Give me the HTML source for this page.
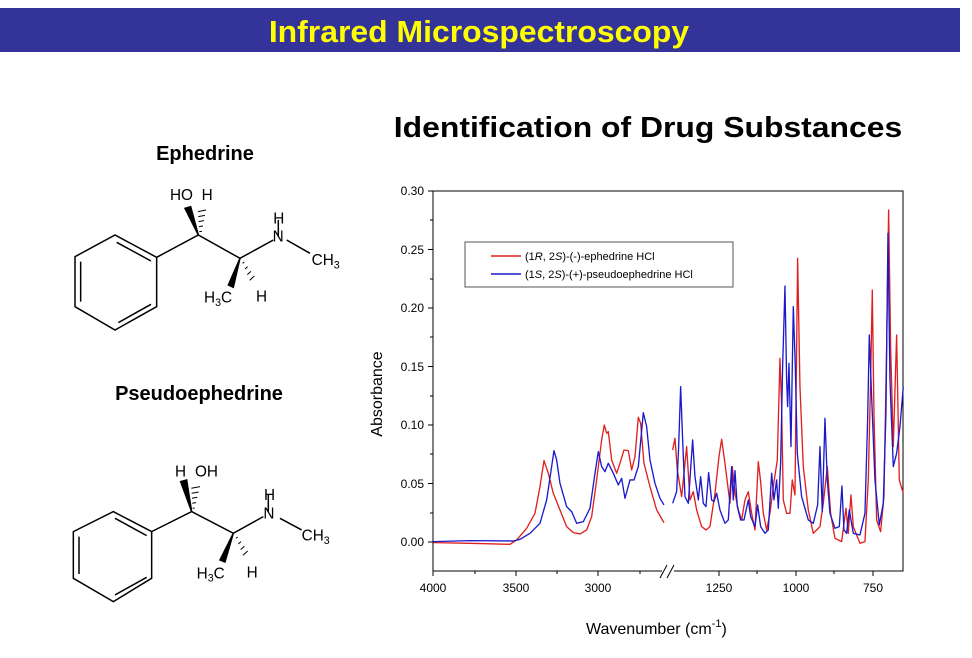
<!DOCTYPE html>
<html><head><meta charset="utf-8"><style>
body{margin:0;width:972px;height:653px;background:#fff;overflow:hidden;font-family:"Liberation Sans",sans-serif;}
</style></head><body>
<svg width="972" height="653" viewBox="0 0 972 653" xmlns="http://www.w3.org/2000/svg" font-family="Liberation Sans, sans-serif">
<rect x="0" y="8" width="960" height="44" fill="#333399"/>
<text x="479" y="42" font-size="31" font-weight="bold" fill="#ffff00" text-anchor="middle" transform="translate(479 0) scale(1.03 1) translate(-479 0)">Infrared Microspectroscopy</text>
<text x="648" y="137" font-size="29" font-weight="bold" text-anchor="middle" fill="#000" transform="translate(648 0) scale(1.1 1) translate(-648 0)">Identification of Drug Substances</text>
<text x="205" y="160" font-size="20" font-weight="bold" text-anchor="middle">Ephedrine</text>
<text x="199" y="400" font-size="20" font-weight="bold" text-anchor="middle">Pseudoephedrine</text>

<g transform="translate(60 170) scale(0.3333)" stroke="#000" stroke-width="4.5" fill="none">
<polygon points="45,260 165,195 290,262 290,410 165,480 45,410"/>
<line x1="62" y1="275" x2="62" y2="395"/><line x1="170" y1="217" x2="273" y2="273"/><line x1="175" y1="458" x2="273" y2="403"/>
<polyline points="290,262 415,195 540,265 640,210"/>
<line x1="680" y1="210" x2="750" y2="250"/>
<line x1="655" y1="150" x2="655" y2="200"/>
<polygon points="415,195 392,110 375,115" fill="#000"/>
<g stroke-width="3"><line x1="418" y1="185" x2="426" y2="184"/><line x1="417" y1="170" x2="429" y2="168"/><line x1="416" y1="155" x2="432" y2="152"/><line x1="415" y1="140" x2="435" y2="136"/><line x1="414" y1="125" x2="438" y2="120"/></g>
<polygon points="540,265 505,345 520,352" fill="#000"/>
<g stroke-width="3"><line x1="548" y1="280" x2="553" y2="276"/><line x1="555" y1="297" x2="563" y2="290"/><line x1="562" y1="314" x2="573" y2="304"/><line x1="569" y1="331" x2="583" y2="318"/></g>
<g stroke="none" fill="#000" font-size="46">
<text x="330" y="90">HO</text><text x="425" y="90">H</text><text x="638" y="215">N</text><text x="640" y="160">H</text>
<text x="755" y="285">CH<tspan font-size="32" dy="10">3</tspan></text>
<text x="432" y="398">H<tspan font-size="32" dy="10">3</tspan><tspan dy="-10">C</tspan></text><text x="588" y="395">H</text></g>
</g>

<g transform="translate(60 170) scale(0.3333)" stroke="#000" stroke-width="4.5" fill="none">
<polygon points="40,1085 160,1025 275,1085 275,1225 160,1295 40,1225"/>
<line x1="57" y1="1100" x2="57" y2="1212"/><line x1="165" y1="1045" x2="260" y2="1097"/><line x1="165" y1="1275" x2="260" y2="1222"/>
<polyline points="275,1085 395,1025 520,1090 610,1040"/>
<line x1="660" y1="1045" x2="725" y2="1080"/>
<line x1="625" y1="975" x2="625" y2="1025"/>
<polygon points="395,1025 362,935 380,930" fill="#000"/>
<g stroke-width="3"><line x1="398" y1="1015" x2="404" y2="1014"/><line x1="397" y1="1000" x2="408" y2="998"/><line x1="396" y1="985" x2="412" y2="982"/><line x1="395" y1="970" x2="416" y2="966"/><line x1="394" y1="955" x2="420" y2="950"/></g>
<polygon points="520,1090 480,1170 495,1176" fill="#000"/>
<g stroke-width="3"><line x1="528" y1="1105" x2="533" y2="1101"/><line x1="535" y1="1122" x2="543" y2="1115"/><line x1="542" y1="1139" x2="553" y2="1129"/><line x1="549" y1="1156" x2="563" y2="1143"/></g>
<g stroke="none" fill="#000" font-size="46">
<text x="345" y="920">H</text><text x="405" y="920">OH</text><text x="610" y="1045">N</text><text x="612" y="990">H</text>
<text x="725" y="1112">CH<tspan font-size="32" dy="10">3</tspan></text>
<text x="410" y="1225">H<tspan font-size="32" dy="10">3</tspan><tspan dy="-10">C</tspan></text><text x="560" y="1222">H</text></g>
</g>

<!-- chart -->
<rect x="433" y="191" width="470" height="380" fill="none" stroke="#000" stroke-width="1"/>
<g stroke="#000" stroke-width="1">
<line x1="428" y1="191" x2="433" y2="191"/><line x1="428" y1="249.5" x2="433" y2="249.5"/><line x1="428" y1="308" x2="433" y2="308"/><line x1="428" y1="366.5" x2="433" y2="366.5"/><line x1="428" y1="425" x2="433" y2="425"/><line x1="428" y1="483.5" x2="433" y2="483.5"/><line x1="428" y1="542" x2="433" y2="542"/>
<line x1="430" y1="220" x2="433" y2="220"/><line x1="430" y1="279" x2="433" y2="279"/><line x1="430" y1="337" x2="433" y2="337"/><line x1="430" y1="396" x2="433" y2="396"/><line x1="430" y1="454" x2="433" y2="454"/><line x1="430" y1="513" x2="433" y2="513"/>
<line x1="433" y1="571" x2="433" y2="576"/><line x1="475" y1="571" x2="475" y2="574"/><line x1="516" y1="571" x2="516" y2="576"/><line x1="557" y1="571" x2="557" y2="574"/><line x1="598" y1="571" x2="598" y2="576"/><line x1="640" y1="571" x2="640" y2="574"/>
<line x1="719" y1="571" x2="719" y2="576"/><line x1="757" y1="571" x2="757" y2="574"/><line x1="796" y1="571" x2="796" y2="576"/><line x1="834" y1="571" x2="834" y2="574"/><line x1="873" y1="571" x2="873" y2="576"/>
</g>
<rect x="662" y="565" width="12" height="12" fill="#fff"/>
<line x1="660" y1="578" x2="667" y2="565" stroke="#000"/><line x1="667" y1="578" x2="674" y2="565" stroke="#000"/>
<g font-size="12" text-anchor="end" fill="#000">
<text x="424" y="195">0.30</text><text x="424" y="254">0.25</text><text x="424" y="312">0.20</text><text x="424" y="371">0.15</text><text x="424" y="429">0.10</text><text x="424" y="488">0.05</text><text x="424" y="546">0.00</text></g>
<g font-size="12" text-anchor="middle" fill="#000">
<text x="433" y="592">4000</text><text x="516" y="592">3500</text><text x="598" y="592">3000</text><text x="719" y="592">1250</text><text x="796" y="592">1000</text><text x="873" y="592">750</text></g>
<text x="0" y="0" font-size="16" text-anchor="middle" transform="translate(382 394) rotate(-90)">Absorbance</text>
<text x="586" y="634" font-size="16">Wavenumber (cm<tspan font-size="11" dy="-7">-1</tspan><tspan dy="7">)</tspan></text>

<rect x="465" y="242" width="268" height="45" fill="#fff" stroke="#555"/>
<line x1="491" y1="256" x2="521" y2="256" stroke="#e02020" stroke-width="1.5"/>
<line x1="491" y1="274" x2="521" y2="274" stroke="#1a1acc" stroke-width="1.5"/>
<text x="525" y="260" font-size="11">(1<tspan font-style="italic">R</tspan>, 2<tspan font-style="italic">S</tspan>)-(-)-ephedrine HCl</text>
<text x="525" y="278" font-size="11">(1<tspan font-style="italic">S</tspan>, 2<tspan font-style="italic">S</tspan>)-(+)-pseudoephedrine HCl</text>

<g transform="translate(420 180) scale(0.3333)" fill="none" stroke-width="4" stroke-linejoin="round">
<polyline stroke="#e02020" points="40,1088 150,1090 270,1093 290,1080 320,1045 345,1000 360,920 372,842 385,880 400,940 420,990 440,1040 460,1058 480,1062 500,1050 515,1010 530,900 545,780 553,735 560,760 565,755 575,840 590,880 600,850 612,810 625,812 635,870 645,830 655,712 662,730 672,850 690,920 710,990 732,1028"/>
<polyline stroke="#e02020" points="758,810 765,775 772,870 785,950 800,800 810,960 820,935 830,990 845,1040 858,1050 870,1040 885,940 897,830 905,778 915,850 930,970 937,860 945,940 955,990 965,1020 975,960 985,935 995,1000 1005,1050 1015,845 1022,905 1030,1000 1040,1050 1050,1000 1060,920 1072,840 1080,535 1085,680 1090,960 1100,1000 1110,1000 1117,900 1125,945 1133,235 1140,620 1150,860 1165,990 1180,1060 1200,1040 1210,970 1222,860 1232,1000 1245,1075 1265,1085 1278,985 1285,1060 1293,945 1300,1040 1320,1090 1335,1085 1345,900 1352,600 1357,330 1362,700 1370,1020 1382,1055 1392,950 1400,500 1406,90 1412,500 1420,800 1430,465 1438,900 1450,940"/>
<polyline stroke="#1a1acc" points="40,1085 150,1082 280,1083 300,1078 330,1060 360,1030 380,960 392,880 402,812 410,840 420,910 440,980 455,995 470,1030 490,1025 510,985 525,880 535,815 545,860 555,875 565,850 580,880 595,915 605,895 615,955 630,900 642,900 655,860 670,698 680,740 690,840 705,910 720,955 732,975"/>
<polyline stroke="#1a1acc" points="758,970 770,935 776,800 782,620 788,780 795,950 805,970 818,780 825,890 835,960 842,890 850,970 858,980 866,878 875,960 882,965 890,940 900,990 915,1030 925,1020 935,860 940,960 945,872 952,980 962,1020 972,1020 985,960 992,1010 1005,1040 1013,975 1022,1040 1035,1060 1045,1050 1055,880 1062,960 1070,900 1075,985 1082,850 1088,560 1095,318 1100,600 1103,680 1107,550 1113,800 1120,380 1126,560 1132,820 1145,950 1165,1020 1180,1030 1193,975 1200,800 1207,995 1215,715 1222,900 1230,1000 1245,1045 1258,1040 1266,918 1272,1050 1280,1060 1288,990 1300,1060 1320,1065 1335,1000 1343,720 1348,465 1355,650 1365,900 1378,1035 1390,970 1398,700 1404,160 1410,600 1420,860 1430,820 1440,740 1450,620"/>
</g>
</svg>
</body></html>
